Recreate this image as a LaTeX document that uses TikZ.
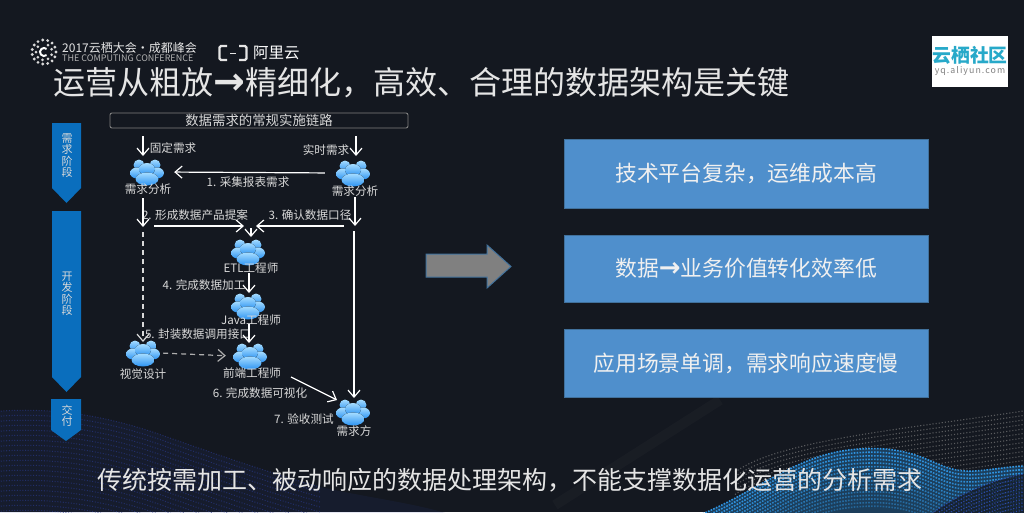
\documentclass[tikz,border=0pt]{standalone}
\usepackage{fontspec}
\setmainfont{Noto Sans CJK SC}
\newfontfamily\arrowfont{DejaVu Sans}
\usetikzlibrary{arrows.meta,calc}
\definecolor{BackClr}{HTML}{141820}
\definecolor{StageClr}{HTML}{0A6EBD}
\definecolor{BoxClr}{HTML}{4F8FCC}
\definecolor{BoxEdge}{HTML}{41719C}
\definecolor{LabelClr}{HTML}{D9D9D9}
\definecolor{LogoClr}{HTML}{27A9C9}
\definecolor{IconTop}{HTML}{A5DCFF}
\definecolor{IconLow}{HTML}{2C93F2}
\definecolor{WaveNavy}{HTML}{2A3A90}
\definecolor{WaveBlue}{HTML}{2F97E6}
\definecolor{WaveDeep}{HTML}{3050C0}
\tikzset{
  flow/.style={draw=white,line width=1.2pt,-{Straight Barb[length=7pt,width=12pt]}},
  flowdash/.style={flow,dash pattern=on 5pt off 4pt},
  flowgrey/.style={flow,draw=LabelClr!80!black,dash pattern=on 5pt off 4pt},
  steptext/.style={text=LabelClr,font=\fontsize{11.6}{11.6}\selectfont,inner sep=0pt},
  stage/.style={fill=StageClr,draw=none},
  stagetext/.style={text=LabelClr,font=\fontsize{11}{11.4}\selectfont,align=center,inner sep=0pt},
  infobox/.style={fill=BoxClr,draw=BoxEdge,line width=1pt,minimum width=364pt,text=white!94!black,
    font=\fontsize{21.8}{21.8}\selectfont},
  usericon/.style={minimum width=34pt,minimum height=26pt,inner sep=0pt,path picture={
    \begin{scope}[shift={(path picture bounding box.center)}]
      \fill[top color=IconTop,bottom color=IconLow] (-8,-7) circle (5.5pt) (8,-7) circle (5.5pt);
      \fill[top color=IconTop,bottom color=IconLow] (-10,1) ellipse (7pt and 5.5pt) (10,1) ellipse (7pt and 5.5pt);
      \fill[top color=IconTop,bottom color=IconLow] (0,-3) ellipse (8pt and 6pt);
      \fill[top color=IconTop,bottom color=IconLow] (0,7) ellipse (11.5pt and 6.5pt);
    \end{scope}}},
}
\begin{document}
\begin{tikzpicture}[x=1pt,y=-1pt]
\useasboundingbox (0,0) rectangle (1024,512);
\fill[BackClr] (0,0) rectangle (1024,512);

% dotted waves
\fill[WaveNavy,opacity=.12] (-10,412) .. controls (60,405) and (120,420) .. (167,437)
  .. controls (210,452) and (260,470) .. (320,487) .. controls (380,500) and (430,505) .. (465,520) -- (-10,520) -- cycle;
\foreach \k in {0,...,22}
  \draw[WaveNavy,opacity=.6,line width=1pt,dash pattern=on 1pt off 1.7pt]
    (-10,412+5*\k) .. controls (60,405+5*\k) and (120,420+5*\k) .. (167,437+5*\k)
    .. controls (210,452+5*\k) and (260,470+5*\k) .. (320,487+5*\k);
\draw[gray,opacity=.05,line width=10pt] (720,400) -- (555,505);
\foreach \k in {0,...,12}
  \draw[gray,opacity=.65,line width=1.1pt,dash pattern=on 1.1pt off 2pt]
    (735,472+4.5*\k) .. controls (780,440+4.5*\k) and (900,430+4.5*\k) .. (1030,410+4.5*\k);
\fill[BackClr] (700,515) .. controls (760,490) and (800,452) .. (860,449)
    .. controls (920,445) and (935,470) .. (965,471) .. controls (985,472) and (1005,466) .. (1030,466) -- (1030,520) -- cycle;
\fill[WaveBlue,opacity=.30] (700,515) .. controls (760,490) and (800,452) .. (860,449)
    .. controls (920,445) and (935,470) .. (965,471) .. controls (985,472) and (1005,466) .. (1030,466) -- (1030,520) -- cycle;
\foreach \k in {0,...,16}{
  \pgfmathsetmacro{\fade}{1-.035*\k}
  \draw[WaveBlue,opacity=\fade,line width=1.6pt,dash pattern=on 1.6pt off 1.3pt]
    (700,515+3.6*\k) .. controls (760,490+3.6*\k) and (800,452+3.6*\k) .. (860,449+3.6*\k)
    .. controls (920,445+3.6*\k) and (935,470+3.6*\k) .. (965,471+3.6*\k)
    .. controls (985,472+3.6*\k) and (1005,466+3.6*\k) .. (1030,466+3.6*\k);
}
\fill[BackClr,opacity=.75] (930,515) .. controls (950,500) and (985,480) .. (1030,473) -- (1030,520) -- cycle;
\foreach \k in {0,...,10}
  \draw[WaveDeep,opacity=.85,line width=1.1pt,dash pattern=on 1.1pt off 1.7pt]
    (930,515+3.6*\k) .. controls (950,500+3.6*\k) and (985,480+3.6*\k) .. (1030,473+3.6*\k);

% logos
\foreach \a in {0,24,...,336}
  \fill[white!85!black] (44,52)+(\a:12) circle (1.6pt);
\foreach \a in {-60,-20,...,220}
  \fill[white!85!black] (44,52)+(\a:8) circle (1.5pt);
\draw[white,line width=2pt] (44,52)+(50:4) arc[start angle=-50,end angle=-310,radius=4pt];
\node[inner sep=0pt,anchor=west,text=white!90!black,font=\fontsize{12}{12}\selectfont] (confname) at (62,48) {2017云栖大会·成都峰会};
\node[inner sep=0pt,anchor=west,text=white!70!black,font=\fontsize{9}{9}\selectfont] (confsub) at (62,58.5) {THE COMPUTING CONFERENCE};
\draw[white!90!black,line width=2.4pt,rounded corners=1.5pt] (227,46) -- (219.5,46) -- (219.5,60) -- (227,60) (239,46) -- (246.5,46) -- (246.5,60) -- (239,60);
\draw[white!90!black,line width=1pt] (230,53) -- (236,53);
\node[inner sep=0pt,anchor=west,text=white,font=\fontsize{15.5}{15.5}\selectfont] (aliname) at (253,53) {阿里云};
\fill[white] (932,36) rectangle (1008,87);
\node[inner sep=0pt,text=LogoClr,font=\fontsize{18.8}{18.8}\bfseries\selectfont] (yqname) at (970,55) {云栖社区};
\node[inner sep=0pt,text=gray,font=\fontsize{8.8}{8.8}\selectfont\addfontfeature{LetterSpace=12}] (yqsite) at (970,71) {yq.aliyun.com};

% titles
\node[inner sep=0pt,anchor=west,text=white!90!black,font=\fontsize{32}{32}\selectfont] (title) at (53,83) {运营从粗放{\arrowfont\bfseries\fontsize{38}{32}\selectfont →}精细化，高效、合理的数据架构是关键};
\node[inner sep=0pt,text=white!90!black,font=\fontsize{25}{25}\selectfont] (bottomline) at (509.5,480.5) {传统按需加工、被动响应的数据处理架构，不能支撑数据化运营的分析需求};

% stages
\fill[stage] (52,123) -- (81,123) -- (81,188) -- (66.5,203) -- (52,188) -- cycle;
\fill[stage] (52,211) -- (81,211) -- (81,377) -- (66.5,392) -- (52,377) -- cycle;
\fill[stage] (51,399) -- (81,399) -- (81,430) -- (66,441) -- (51,430) -- cycle;
\node[stagetext] (stageneed) at (67,155.5) {需\\求\\阶\\段};
\node[stagetext] (stagedev) at (67,293.5) {开\\发\\阶\\段};
\node[stagetext] (stagedone) at (67,416) {交\\付};

% chain header
\node[draw=gray,line width=.9pt,rounded corners=2pt,minimum width=298pt,minimum height=15pt,inner sep=0pt,
  text=LabelClr,font=\fontsize{13.4}{13.4}\selectfont] (chain) at (259,120.5) {数据需求的常规实施链路};

% people
\node[usericon] (reqL) at (147,172) {};
\node[usericon] (reqR) at (353,173) {};
\node[usericon] (etl) at (248,252) {};
\node[usericon] (java) at (248,306) {};
\node[usericon] (visual) at (143,353) {};
\node[usericon] (front) at (250,356) {};
\node[usericon] (client) at (353,412) {};

\node[steptext] (reqLtext) at (148,189) {需求分析};
\node[steptext] (reqRtext) at (355,191) {需求分析};
\node[steptext] (etltext) at (251,268) {ETL工程师};
\node[steptext] (javatext) at (251,320) {Java工程师};
\node[steptext] (visualtext) at (143,374) {视觉设计};
\node[steptext] (fronttext) at (252,373) {前端工程师};
\node[steptext] (clienttext) at (354,431) {需求方};

\node[steptext] (fixedtext) at (173,148) {固定需求};
\node[steptext] (livetext) at (326,150) {实时需求};
\node[steptext] (stepa) at (248,182) {1. 采集报表需求};
\node[steptext] (stepb) at (195,215) {2. 形成数据产品提案};
\node[steptext] (stepc) at (310,215) {3. 确认数据口径};
\node[steptext] (stepd) at (204,285) {4. 完成数据加工};
\node[steptext] (stepe) at (198,334) {5. 封装数据调用接口};
\node[steptext] (stepf) at (260,393) {6. 完成数据可视化};
\node[steptext] (stepg) at (304,419) {7. 验收测试};

% free ends
\coordinate (fixedin) at (143,136);
\coordinate (fixedout) at (143,156);
\coordinate (livein) at (356,136);
\coordinate (liveout) at (356,156);
\coordinate (leftdown) at (143,198);
\coordinate (leftend) at (143,227);
\coordinate (rightdown) at (355,197);
\coordinate (rightend) at (355,226);
\coordinate (propstart) at (154,226);
\coordinate (propend) at (244,226);
\coordinate (confstart) at (344,226);
\coordinate (confend) at (256,226);
\coordinate (etlstart) at (251,228);
\coordinate (etlend) at (251,237);
\coordinate (dashstart) at (143,232);
\coordinate (dashend) at (143,342);
\coordinate (longstart) at (354,231);
\coordinate (longend) at (354,398);
\coordinate (etlout) at (249,273);
\coordinate (javain) at (249,293);
\coordinate (javaout) at (249,324);
\coordinate (frontin) at (249,343);
\coordinate (frontout) at (291,377);
\coordinate (clientin) at (337,400);

\draw[flow] (fixedin) -- (fixedout);
\draw[flow] (livein) -- (liveout);
\draw[flow,shorten <=11pt,shorten >=10pt] (reqR.west) -- (reqL.east);
\draw[flow] (leftdown) -- (leftend);
\draw[flow] (rightdown) -- (rightend);
\draw[flow] (propstart) -- (propend);
\draw[flow] (confstart) -- (confend);
\draw[flow] (etlstart) -- (etlend);
\draw[flowdash,draw=LabelClr] (dashstart) -- (dashend);
\draw[flow] (longstart) -- (longend);
\draw[flow] (etlout) -- (javain);
\draw[flow] (javaout) -- (frontin);
\draw[flowgrey,shorten <=3pt,shorten >=7pt] (visual.east) -- (front.west);
\draw[flow] (frontout) -- (clientin);

% big arrow
\draw[draw=BoxEdge,line width=1pt,fill=gray]
  (426,254) -- (487,254) -- (487,245) -- (511,266.5) -- (487,288) -- (487,277) -- (426,277) -- cycle;

% result boxes
\node[infobox,minimum height=69pt] (boxcost) at (746,173.5) {技术平台复杂，运维成本高};
\node[infobox,minimum height=67pt] (boxvalue) at (746,268.5) {数据{\arrowfont\bfseries\fontsize{26}{22}\selectfont →}业务价值转化效率低};
\node[infobox,minimum height=68pt] (boxscene) at (746,363) {应用场景单调，需求响应速度慢};
\end{tikzpicture}
\end{document}
